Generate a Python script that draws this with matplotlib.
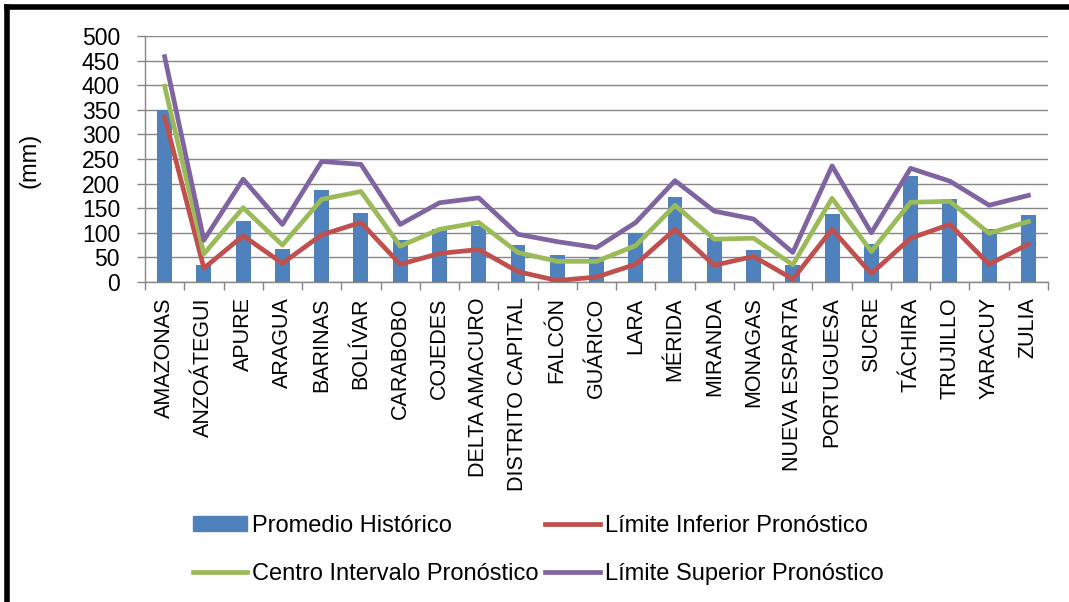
import matplotlib
matplotlib.use("Agg")
import matplotlib.pyplot as plt
import numpy as np
from matplotlib.lines import Line2D
from matplotlib.patches import Patch

plt.rcParams["font.family"] = ["Liberation Sans", "DejaVu Sans"]

states = [
    "AMAZONAS", "ANZOÁTEGUI", "APURE", "ARAGUA", "BARINAS", "BOLÍVAR",
    "CARABOBO", "COJEDES", "DELTA AMACURO", "DISTRITO CAPITAL", "FALCÓN",
    "GUÁRICO", "LARA", "MÉRIDA", "MIRANDA", "MONAGAS", "NUEVA ESPARTA",
    "PORTUGUESA", "SUCRE", "TÁCHIRA", "TRUJILLO", "YARACUY", "ZULIA",
]
promedio = [350, 35, 123, 68, 188, 141, 85, 107, 113, 75, 55, 50, 100, 172,
            89, 65, 35, 138, 77, 215, 168, 107, 136]
lim_inf = [335, 28, 94, 38, 96, 121, 36, 58, 66, 21, 3, 10, 36, 107,
           34, 52, 6, 107, 17, 89, 117, 36, 77]
centro = [398, 57, 151, 75, 168, 184, 73, 107, 121, 60, 42, 42, 74, 156,
          87, 89, 35, 170, 62, 162, 164, 99, 123]
lim_sup = [458, 85, 209, 117, 245, 239, 117, 161, 171, 97, 82, 70, 121, 206,
           144, 128, 60, 236, 100, 231, 205, 156, 176]

C_BAR = "#4F81BD"
C_INF = "#C0504D"
C_CEN = "#9BBB59"
C_SUP = "#8064A2"
GRID = "#868686"
LW = 3.4

fig = plt.figure(figsize=(10.69, 6.02), dpi=100)
ax = fig.add_axes([145 / 1069, 1 - 282 / 602, 903 / 1069, 246 / 602])

x = np.arange(len(states))
ax.bar(x, promedio, width=0.38, color=C_BAR, zorder=2)
ax.plot(x, lim_inf, color=C_INF, lw=LW, zorder=3)
ax.plot(x, centro, color=C_CEN, lw=LW, zorder=3)
ax.plot(x, lim_sup, color=C_SUP, lw=LW, zorder=3)

ax.set_xlim(-0.5, len(states) - 0.5)
ax.set_ylim(0, 500)
ax.set_yticks(np.arange(0, 501, 50))
ax.yaxis.grid(True, color=GRID, lw=1, zorder=0)
ax.set_axisbelow(True)

ax.set_xticks(x)
ax.set_xticklabels(states, rotation=90, fontsize=15.5, va="top")
ax.set_xticks(np.arange(-0.5, len(states), 1), minor=True)
ax.tick_params(axis="x", which="major", length=0, pad=11)
ax.tick_params(axis="x", which="minor", length=6, color=GRID, width=1)
ax.tick_params(axis="y", length=6, color=GRID, width=1, pad=12, labelsize=16.5)

for s in ["top", "right"]:
    ax.spines[s].set_visible(False)
for s in ["left", "bottom"]:
    ax.spines[s].set_color(GRID)
    ax.spines[s].set_linewidth(1)

fig.text(30 / 1069, 1 - 160 / 602, "(mm)", rotation=90, fontsize=17,
         ha="center", va="center")

handles = [
    Patch(facecolor=C_BAR, edgecolor=C_BAR),
    Line2D([0], [0], color=C_CEN, lw=LW),
    Line2D([0], [0], color=C_INF, lw=LW),
    Line2D([0], [0], color=C_SUP, lw=LW),
]
labels = ["Promedio Histórico", "Centro Intervalo Pronóstico",
          "Límite Inferior Pronóstico", "Límite Superior Pronóstico"]
fig.legend(handles, labels, ncol=2, loc="center", frameon=False,
           bbox_to_anchor=(538 / 1069, 1 - 550 / 602), fontsize=17,
           handlelength=2.3, handleheight=0.6, handletextpad=0.2,
           columnspacing=0.3, labelspacing=1.1, borderaxespad=0)

# black frame on top and left like the source image
fig.add_artist(Line2D([7 / 1069, 1.0], [1 - 7 / 602, 1 - 7 / 602],
                      color="black", lw=4, transform=fig.transFigure))
fig.add_artist(Line2D([7 / 1069, 7 / 1069], [0, 1 - 7 / 602],
                      color="black", lw=4, transform=fig.transFigure))

fig.savefig("out.png", dpi=100)
